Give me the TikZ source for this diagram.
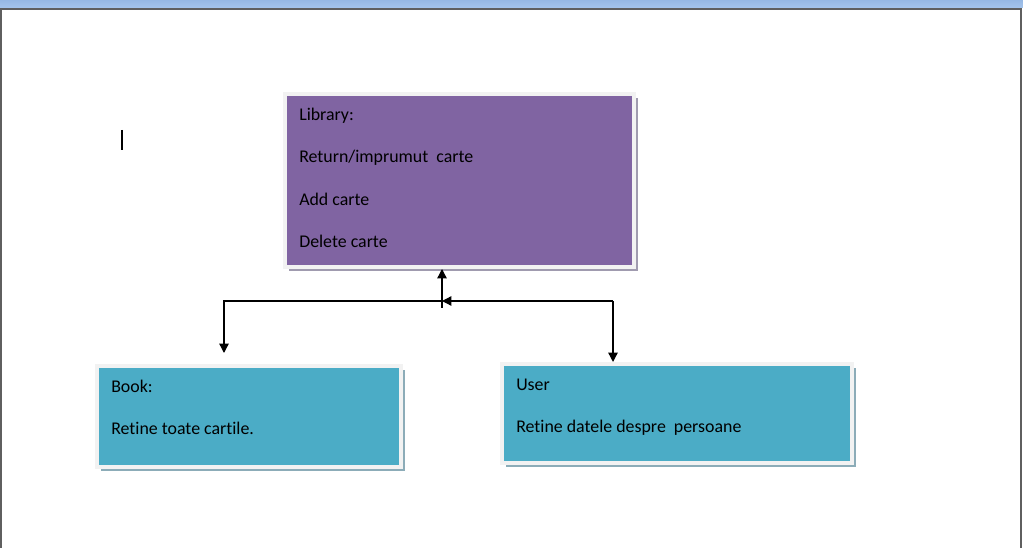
\documentclass[tikz,border=0pt]{standalone}
\usepackage{fontspec}
\setmainfont{Carlito}[Ligatures=NoCommon]
\usetikzlibrary{
    positioning,
    shadows,
    arrows.meta,
}
\definecolor{libpurple}{RGB}{128,100,162}
\definecolor{boxteal}{RGB}{75,172,198}
\definecolor{framewhite}{RGB}{242,242,242}
\definecolor{libshade}{RGB}{160,155,175}
\definecolor{boxshade}{RGB}{140,172,184}
\definecolor{bartop}{RGB}{150,184,228}
\definecolor{barbottom}{RGB}{165,196,236}
\definecolor{pagegray}{RGB}{95,95,95}

\begin{document}
\begin{tikzpicture}[
    x=0.75pt, y=-0.75pt,
    classbox/.style={draw=framewhite, line width=3pt, inner sep=0pt,
    anchor=center},
    boxtext/.style={inner sep=0pt, align=left, anchor=north west,
    font=\fontsize{13.4}{31.7}\selectfont},
    link/.style={-{Triangle[length=7pt,width=7pt]}, line width=1pt},
]
\useasboundingbox (0,0) rectangle (1023,548);

% PAGE
\fill[white] (0,0) rectangle (1023,548);
\shade[top color=bartop, bottom color=barbottom] (0,0) rectangle (1023,8);
\draw[pagegray, line width=1.5pt] (1,548) -- (1,9) -- (1021,9) -- (1021,548);

% CURSOR
\draw[line width=1.5pt] (122,130) -- (122,150);

% LIBRARY
\node[classbox, fill=libpurple, minimum width=261.75pt, minimum height=129.75pt,
    drop shadow={fill=libshade, opacity=1, shadow xshift=3pt, shadow yshift=-3pt}]
    at (459.5,180.5) (lib) {};
\node[boxtext] [below right=12pt and 12pt of lib.north west] (libtext)
    {Library:\\Return/imprumut\ \ carte\\Add carte\\Delete carte};

% BOOK
\node[classbox, fill=boxteal, minimum width=228pt, minimum height=75.75pt,
    drop shadow={fill=boxshade, opacity=1, shadow xshift=3pt, shadow yshift=-3pt}]
    at (249,416.5) (book) {};
\node[boxtext] [below right=12pt and 12pt of book.north west] (booktext)
    {Book:\\Retine toate cartile.};

% USER
\node[classbox, fill=boxteal, minimum width=262.5pt, minimum height=74.25pt,
    drop shadow={fill=boxshade, opacity=1, shadow xshift=3pt, shadow yshift=-3pt}]
    at (677,413.5) (user) {};
\node[boxtext] [below right=12.25pt and 12pt of user.north west] (usertext)
    {User\\Retine datele despre\ \ persoane};

% CONNECTORS
\coordinate (stem) at (442,308);
\coordinate (hub) at (442,301);
\coordinate (leftturn) at (224,301);
\coordinate (rightturn) at (613,301);
\coordinate (bookend) at (224,353);

\draw[link] (stem) -- (stem |- lib.south);
\draw[link] (rightturn) -- (hub);
\draw[link] (hub) -- (leftturn) -- (bookend);
\draw[link] (rightturn) -- (rightturn |- user.north);

\end{tikzpicture}
\end{document}
